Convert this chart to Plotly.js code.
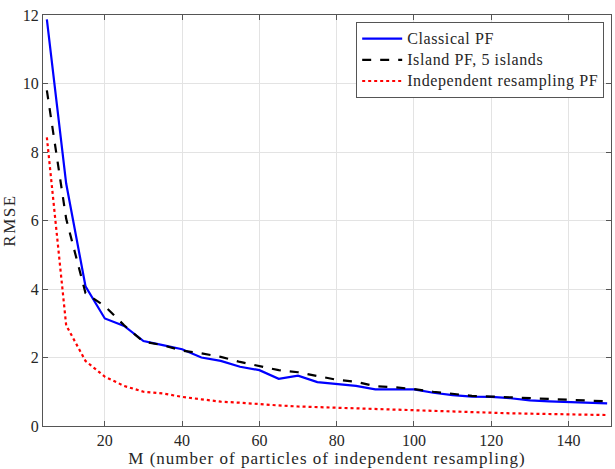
<!DOCTYPE html>
<html>
<head>
<meta charset="utf-8">
<script src="https://cdn.plot.ly/plotly-3.0.1.min.js"></script>
<style>
html,body{margin:0;padding:0;background:#fff;}
#chart{width:615px;height:469px;}
.xtitle{letter-spacing:1px;}
.ytitle{letter-spacing:1.5px;}
.legendtext{letter-spacing:0.6px; font-size:16px !important;}
</style>
</head>
<body>
<div id="chart"></div>
<script>
const M = [5,10,15,20,25,30,35,40,45,50,55,60,65,70,75,80,85,90,95,100,105,110,115,120,125,130,135,140,145,150];
const classicalPF = [11.87,7.08,4.08,3.14,2.92,2.48,2.36,2.24,2.0,1.9,1.73,1.63,1.38,1.47,1.28,1.22,1.17,1.07,1.06,1.07,0.97,0.90,0.86,0.85,0.81,0.75,0.72,0.70,0.68,0.66];
const islandPF = [9.8,6.05,3.88,3.5,2.94,2.46,2.36,2.2,2.12,2.02,1.87,1.75,1.63,1.57,1.46,1.35,1.29,1.16,1.13,1.08,1.0,0.93,0.88,0.86,0.84,0.82,0.80,0.78,0.75,0.72];
const independentPF = [8.43,2.94,1.9,1.44,1.17,1.0,0.95,0.85,0.78,0.71,0.68,0.63,0.60,0.57,0.55,0.53,0.51,0.50,0.48,0.45,0.43,0.41,0.40,0.39,0.37,0.36,0.35,0.34,0.33,0.32];
const names = ["Classical PF","Island PF, 5 islands","Independent resampling PF"];
const xTicks = [20,40,60,80,100,120,140];
const yTicks = [0,2,4,6,8,10,12];

const font = "'Liberation Serif', 'DejaVu Serif', serif";
const traces = [
  {x:M, y:classicalPF, name:names[0], mode:'lines', line:{color:'#0000ff', width:2.2}},
  {x:M, y:islandPF, name:names[1], mode:'lines', line:{color:'#000000', width:2.2, dash:'dash'}},
  {x:M, y:independentPF, name:names[2], mode:'lines', line:{color:'#ff0000', width:2.2, dash:'dot'}}
];
const axisCommon = {
  showline:true, linecolor:'#555', linewidth:1, mirror:'ticks',
  ticks:'inside', ticklen:5, tickcolor:'#555',
  showgrid:true, gridcolor:'#e3e3e3', gridwidth:1, zeroline:false,
  tickfont:{family:font, size:16, color:'#262626'}
};
const layout = {
  width:615, height:469,
  margin:{l:43, r:4, t:15, b:43},
  paper_bgcolor:'#fff', plot_bgcolor:'#fff',
  font:{family:font, color:'#262626'},
  xaxis:Object.assign({}, axisCommon, {range:[4,151], tickvals:xTicks, ticktext:xTicks.map(String),
    title:{text:'M (number of particles of independent resampling)', font:{family:font, size:17, color:'#262626'}, standoff:1}}),
  yaxis:Object.assign({}, axisCommon, {range:[0,12], tickvals:yTicks, ticktext:yTicks.map(String),
    title:{text:'RMSE', font:{family:font, size:17, color:'#262626'}, standoff:4}}),
  legend:{x:0.988, xanchor:'right', y:0.983, yanchor:'top', bgcolor:'#fff', bordercolor:'#555', borderwidth:1,
    font:{family:font, size:14, color:'#262626'}, tracegroupgap:0, itemwidth:40},
  showlegend:true
};
Plotly.newPlot('chart', traces, layout, {displayModeBar:false, staticPlot:true});
</script>
</body>
</html>
